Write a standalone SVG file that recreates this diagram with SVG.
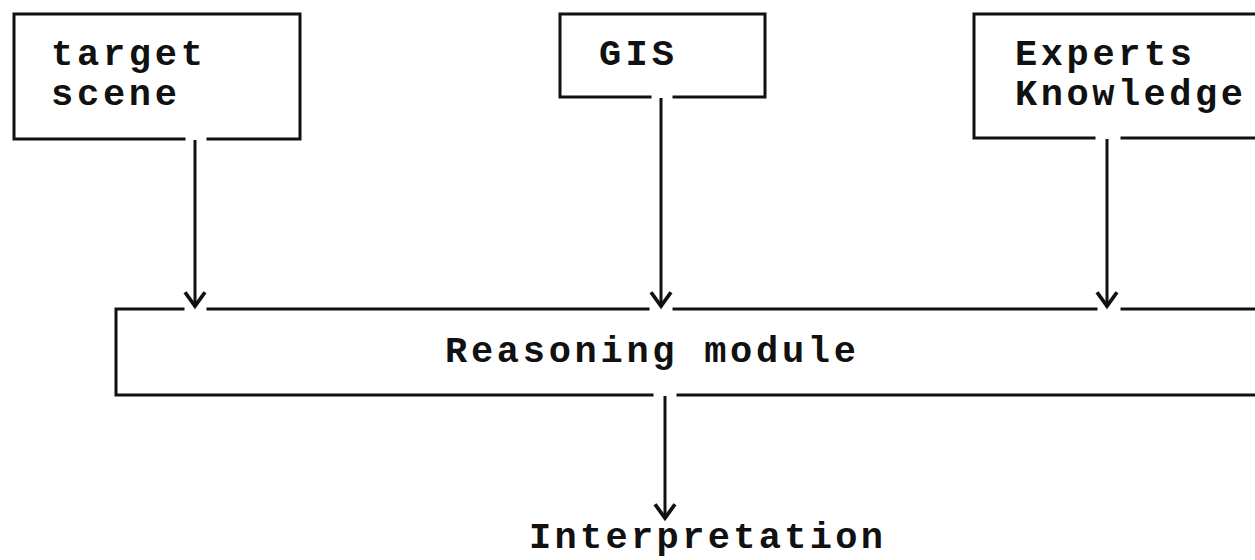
<svg xmlns="http://www.w3.org/2000/svg" width="1255" height="560" viewBox="0 0 1255 560">
  <style>
    .frame { fill: none; stroke: #111; stroke-width: 3; stroke-linejoin: miter; stroke-linecap: square; }
    .edge { fill: none; stroke: #111; stroke-width: 3; }
    .lbl { font-family: "Liberation Mono", "Courier New", monospace; font-weight: bold; font-size: 37px; fill: #111; }
  </style>
  <defs>
    <marker id="vhead" markerUnits="userSpaceOnUse" markerWidth="30" markerHeight="30" viewBox="-14 -12 16 24" refX="0" refY="0" orient="auto">
      <path d="M-11,-8 L0,0 L-11,8" fill="none" stroke="#111" stroke-width="3"/>
    </marker>
  </defs>
  <rect width="1255" height="560" fill="#fff"/>

  <!-- source box: target scene -->
  <g id="target-scene">
    <path class="frame" d="M184,139 H14 V14 H300 V139 H208"/>
    <text class="lbl" x="51" y="65" textLength="152" lengthAdjust="spacing">target</text>
    <text class="lbl" x="51" y="105" textLength="126" lengthAdjust="spacing">scene</text>
  </g>

  <!-- source box: GIS -->
  <g id="gis">
    <path class="frame" d="M650,97 H560 V14 H765 V97 H674"/>
    <text class="lbl" x="599" y="65" textLength="75" lengthAdjust="spacing">GIS</text>
  </g>

  <!-- source box: Experts Knowledge (runs past the right edge) -->
  <g id="experts-knowledge">
    <path class="frame" d="M1094,138 H974 V14 H1262 M1262,138 H1122"/>
    <text class="lbl" x="1015" y="65" textLength="177" lengthAdjust="spacing">Experts</text>
    <text class="lbl" x="1015" y="105" textLength="228" lengthAdjust="spacing">Knowledge</text>
  </g>

  <!-- central box: Reasoning module (runs past the right edge) -->
  <g id="reasoning-module">
    <path class="frame" d="M183,309 H116 V395 H652 M678,395 H1262 M1262,309 H1122 M1096,309 H674 M648,309 H208"/>
    <text class="lbl" x="445" y="362" textLength="411" lengthAdjust="spacing">Reasoning module</text>
  </g>

  <!-- result label -->
  <g id="interpretation">
    <text class="lbl" x="529" y="548" textLength="354" lengthAdjust="spacing">Interpretation</text>
  </g>

  <!-- connectors -->
  <g id="connectors">
    <line class="edge" x1="195" y1="140" x2="195" y2="306" marker-end="url(#vhead)"/>
    <line class="edge" x1="661" y1="98" x2="661" y2="306" marker-end="url(#vhead)"/>
    <line class="edge" x1="1107" y1="139" x2="1107" y2="306" marker-end="url(#vhead)"/>
    <line class="edge" x1="665" y1="396" x2="665" y2="518" marker-end="url(#vhead)"/>
  </g>
</svg>
